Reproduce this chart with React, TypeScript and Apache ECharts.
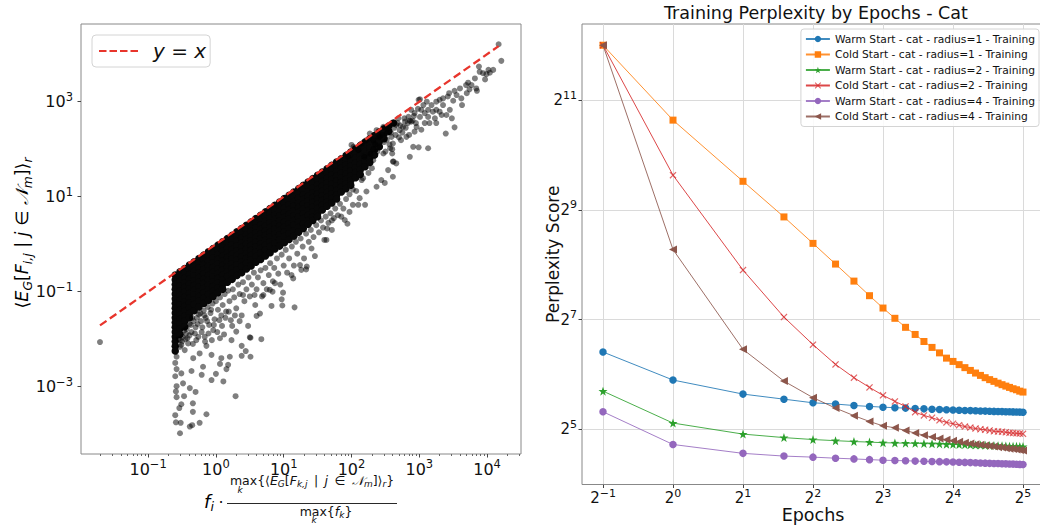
import React, { useEffect, useRef } from 'react';
import * as echarts from 'echarts';

const FONT = 'DejaVu Sans';
const INK = '#111111';

// ---------------- Left panel (log10 space) ----------------
const LEFT_X_TICKS = [-1, 0, 1, 2, 3, 4];
const LEFT_Y_TICKS = [-3, -1, 1, 3];
const LEFT_X_MINOR_DECADES = [-2, -1, 0, 1, 2, 3, 4];
const LEFT_X_MINOR_SUBS = [2, 3, 4, 5, 6, 7, 8, 9];
const LEFT_X_RANGE = [-1.99, 4.5];
const LEFT_Y_RANGE = [-4.417, 4.636];
// log10(x) range of the y = x reference line
const YX_LINE = [-1.71, 4.17];

// dense core of the cloud: [log10 x, log10 y1, log10 y2, ...]
const CORE: number[][] = [
  [-0.60, -0.65, -0.75, -0.85, -0.95, -1.05, -1.15, -1.25, -1.35, -1.45, -1.55, -1.65, -1.75, -1.85, -1.95, -2.05, -2.15, -2.25],
  [-0.53, -0.58, -0.68, -0.78, -0.88, -0.98, -1.08, -1.18, -1.28, -1.38, -1.48, -1.58, -1.68, -1.78, -1.9],
  [-0.46, -0.51, -0.61, -0.71, -0.81, -0.91, -1.01, -1.11, -1.21, -1.31, -1.41, -1.51, -1.62, -1.74],
  [-0.39, -0.44, -0.54, -0.64, -0.74, -0.84, -0.94, -1.04, -1.14, -1.24, -1.34, -1.46, -1.55],
  [-0.32, -0.37, -0.47, -0.57, -0.67, -0.77, -0.87, -0.97, -1.07, -1.17, -1.27, -1.4],
  [-0.25, -0.30, -0.40, -0.50, -0.60, -0.70, -0.80, -0.90, -1.00, -1.10, -1.20, -1.32],
  [-0.18, -0.23, -0.33, -0.43, -0.53, -0.63, -0.73, -0.83, -0.93, -1.03, -1.13, -1.25],
  [-0.11, -0.16, -0.26, -0.36, -0.46, -0.56, -0.66, -0.76, -0.86, -0.96, -1.06, -1.18],
  [-0.04, -0.09, -0.19, -0.29, -0.39, -0.49, -0.59, -0.69, -0.79, -0.89, -0.99, -1.1],
  [0.03, -0.02, -0.12, -0.22, -0.32, -0.42, -0.52, -0.62, -0.72, -0.82, -0.92, -1.02],
  [0.10, 0.05, -0.05, -0.15, -0.25, -0.35, -0.45, -0.55, -0.65, -0.75, -0.85, -0.95],
  [0.17, 0.12, 0.02, -0.08, -0.18, -0.28, -0.38, -0.48, -0.58, -0.68, -0.8],
  [0.24, 0.19, 0.09, -0.01, -0.11, -0.21, -0.31, -0.41, -0.51, -0.61, -0.74],
  [0.31, 0.26, 0.16, 0.06, -0.04, -0.14, -0.24, -0.34, -0.44, -0.54, -0.66],
  [0.38, 0.33, 0.23, 0.13, 0.03, -0.07, -0.17, -0.27, -0.37, -0.47, -0.6],
  [0.45, 0.40, 0.30, 0.20, 0.10, 0.00, -0.10, -0.20, -0.30, -0.40, -0.52],
  [0.52, 0.47, 0.37, 0.27, 0.17, 0.07, -0.03, -0.13, -0.23, -0.33, -0.46],
  [0.59, 0.54, 0.44, 0.34, 0.24, 0.14, 0.04, -0.06, -0.16, -0.26, -0.38],
  [0.66, 0.61, 0.51, 0.41, 0.31, 0.21, 0.11, 0.01, -0.09, -0.19, -0.32],
  [0.73, 0.68, 0.58, 0.48, 0.38, 0.28, 0.18, 0.08, -0.02, -0.12, -0.25],
  [0.80, 0.75, 0.65, 0.55, 0.45, 0.35, 0.25, 0.15, 0.05, -0.05, -0.18],
  [0.87, 0.82, 0.72, 0.62, 0.52, 0.42, 0.32, 0.22, 0.12, 0.02, -0.1],
  [0.94, 0.89, 0.79, 0.69, 0.59, 0.49, 0.39, 0.29, 0.19, 0.09, -0.04],
  [1.01, 0.96, 0.86, 0.76, 0.66, 0.56, 0.46, 0.36, 0.26, 0.16, 0.03],
  [1.08, 1.03, 0.93, 0.83, 0.73, 0.63, 0.53, 0.43, 0.33, 0.22, 0.1],
  [1.15, 1.10, 1.00, 0.90, 0.80, 0.70, 0.60, 0.50, 0.40, 0.28, 0.17],
  [1.22, 1.17, 1.07, 0.97, 0.87, 0.77, 0.67, 0.57, 0.47, 0.35, 0.25],
  [1.29, 1.24, 1.14, 1.04, 0.94, 0.84, 0.74, 0.64, 0.54, 0.43, 0.33],
  [1.36, 1.31, 1.21, 1.11, 1.01, 0.91, 0.81, 0.71, 0.61, 0.5, 0.42],
  [1.43, 1.38, 1.28, 1.18, 1.08, 0.98, 0.88, 0.78, 0.68, 0.57, 0.5],
  [1.50, 1.45, 1.35, 1.25, 1.15, 1.05, 0.95, 0.85, 0.75, 0.64, 0.58],
  [1.57, 1.52, 1.42, 1.32, 1.22, 1.12, 1.02, 0.92, 0.82, 0.72],
  [1.64, 1.59, 1.49, 1.39, 1.29, 1.19, 1.09, 0.99, 0.89, 0.8],
  [1.71, 1.66, 1.56, 1.46, 1.36, 1.26, 1.16, 1.06, 0.96, 0.87],
  [1.78, 1.73, 1.63, 1.53, 1.43, 1.33, 1.23, 1.13, 1.03, 0.95],
  [1.85, 1.80, 1.70, 1.60, 1.50, 1.40, 1.30, 1.20, 1.1],
  [1.92, 1.87, 1.77, 1.67, 1.57, 1.47, 1.37, 1.27, 1.17],
  [1.99, 1.94, 1.84, 1.74, 1.64, 1.54, 1.44, 1.34, 1.24],
  [2.06, 2.01, 1.91, 1.81, 1.71, 1.61, 1.51, 1.4],
  [2.13, 2.08, 1.98, 1.88, 1.78, 1.68, 1.57, 1.47],
  [2.20, 2.15, 2.05, 1.95, 1.85, 1.75, 1.63],
  [2.27, 2.22, 2.12, 2.02, 1.92, 1.82, 1.72],
  [2.34, 2.29, 2.19, 2.09, 1.99, 1.88],
  [2.41, 2.36, 2.26, 2.16, 2.05],
  [2.48, 2.43, 2.33, 2.22],
  [2.55, 2.49, 2.38],
  [2.62, 2.55],
];

// individual points around the core: [log10 x, log10 y]
const FRINGE: number[][] = [
  [-1.71, -2.06],
  [-0.53, -3.98], [-0.52, -3.76], [-0.385, -3.84], [-0.35, -3.81], [-0.24, -3.76], [-0.14, -3.58], [-0.34, -3.53],
  [-0.34, -3.35], [-0.54, -3.45], [-0.51, -3.37], [0.29, -3.2], [-0.47, -3.2], [-0.58, -3.22], [-0.3, -3.11],
  [-0.385, -3.03], [-0.485, -2.93], [-0.58, -2.99], [0.11, -2.89], [-0.065, -2.86], [-0.21, -2.75], [0.0, -2.73],
  [0.155, -2.63], [-0.58, -2.63], [-0.51, -2.72], [-0.36, -2.67], [-0.19, -2.58], [0.06, -2.52], [0.18, -2.54],
  [0.38, -2.35], [0.44, -2.25], [0.51, -2.37], [0.51, -1.97], [0.67, -2.0], [0.38, -2.14], [0.205, -2.37],
  [0.08, -2.4], [-0.065, -2.33], [-0.24, -2.3], [-0.335, -2.4], [-0.58, -2.37], [-0.46, -2.23], [-0.14, -2.14],
  [0.6, -1.51], [0.475, -1.72], [0.65, -1.46], [0.82, -1.3], [0.97, -1.16], [0.99, -1.02], [1.16, -1.33],
  [1.115, -0.65], [1.24, -0.44], [1.33, -0.53], [0.835, -1.0], [0.98, -1.29], [0.3, -1.84], [0.23, -2.02],
  [0.06, -1.98], [-0.04, -1.81], [-0.165, -1.95], [-0.29, -2.02], [-0.41, -2.09], [-0.53, -2.16], [0.5, -1.96],
  [-0.6, -2.5], [-0.6, -2.78], [-0.59, -3.1], [-0.6, -3.6], [-0.59, -3.75],
  [-0.55, -2.0], [-0.5, -2.05], [-0.49, -1.95], [-0.44, -1.88], [-0.42, -1.98], [-0.37, -1.7], [-0.36, -1.85],
  [-0.33, -1.62], [-0.3, -1.75], [-0.28, -1.55], [-0.25, -1.48], [-0.22, -1.62], [-0.21, -1.85], [-0.18, -1.4],
  [-0.15, -1.55], [-0.12, -1.32], [-0.1, -1.7], [-0.08, -1.45], [-0.05, -1.25], [-0.02, -1.58], [0.0, -1.2],
  [0.03, -1.38], [0.06, -1.12], [0.08, -1.5], [0.1, -1.28], [0.13, -1.05], [0.15, -1.42], [0.18, -0.98],
  [0.2, -1.2], [0.22, -1.6], [0.25, -0.95], [0.27, -1.12], [0.3, -1.35], [0.33, -0.85], [0.35, -1.05],
  [0.38, -1.5], [0.4, -0.8], [0.42, -1.2], [0.45, -0.95], [0.48, -0.7], [0.5, -1.1], [0.53, -0.85],
  [0.56, -0.6], [0.58, -1.28], [0.6, -0.95], [0.62, -0.7], [0.66, -0.55], [0.68, -1.1], [0.7, -0.82],
  [0.73, -0.5], [0.75, -0.95], [0.78, -0.65], [0.8, -0.4], [0.84, -0.78], [0.86, -0.5], [0.9, -0.3],
  [0.92, -0.62], [0.95, -0.85], [0.97, -0.22], [1.0, -0.45], [1.03, -0.12], [1.05, -0.6], [1.08, -0.3],
  [1.12, -0.05], [1.15, -0.45], [1.18, 0.05], [1.2, -0.2], [1.25, 0.12], [1.28, -0.05], [1.3, -0.3],
  [1.33, 0.22], [1.37, 0.05], [1.4, 0.3], [1.44, 0.15], [1.46, -0.25], [1.48, 0.4], [1.52, 0.25],
  [1.55, 0.5], [1.58, 0.35], [1.6, 0.09], [1.62, 0.58], [1.66, 0.45], [1.64, 0.33], [1.69, 0.65],
  [1.71, 0.3], [1.74, 0.55], [1.76, 0.75], [1.8, 0.61], [1.83, 0.85], [1.85, 0.58], [1.88, 0.75],
  [1.9, 0.51], [1.92, 0.95], [1.94, 0.43], [1.97, 0.68], [1.97, 1.05], [2.02, 0.83], [2.02, 1.15],
  [2.07, 1.12], [2.1, 0.83], [2.12, 0.97], [2.15, 1.35], [2.17, 1.39], [2.2, 0.83], [2.22, 1.11],
  [2.25, 1.5], [2.3, 1.6], [2.37, 1.21], [2.44, 1.35], [2.49, 1.29], [2.54, 1.56], [2.6, 1.91],
  [2.61, 1.42], [2.62, 1.74], [2.66, 1.7], [1.34, -0.47], [1.26, -0.54], [0.87, -0.82], [0.795, -0.96],
  [0.7, -1.07], [0.57, -1.07], [0.4, -1.07], [1.14, -0.72], [1.41, -0.09], [1.63, 0.09], [1.71, 0.5],
  [2.55, 2.45], [2.58, 2.35], [2.63, 2.45], [2.65, 2.3], [2.68, 2.55], [2.7, 2.25], [2.72, 2.5],
  [2.75, 2.35], [2.78, 2.65], [2.8, 2.45], [2.83, 2.55], [2.85, 2.3], [2.9, 2.6], [2.92, 2.7],
  [2.95, 2.55], [2.98, 2.85], [2.52, 2.2], [2.56, 2.1], [2.6, 2.0], [2.45, 2.3], [2.48, 2.15],
  [2.4, 2.25], [2.42, 2.05], [2.5, 1.95], [2.35, 2.1], [2.38, 1.95], [2.28, 1.9], [2.32, 2.0],
  [4.17, 4.21], [4.21, 3.86], [4.09, 3.67], [4.04, 3.61], [3.99, 3.58], [3.97, 3.47], [3.88, 3.74],
  [3.89, 3.63], [3.82, 3.49], [3.84, 3.28], [3.85, 3.23], [3.72, 3.4], [3.69, 3.35], [3.74, 3.26],
  [3.7, 3.18], [3.6, 3.28], [3.52, 3.23], [3.62, 3.07], [3.63, 2.93], [3.44, 3.18], [3.42, 3.11],
  [3.5, 3.02], [3.35, 3.07], [3.3, 3.04], [3.25, 3.0], [3.18, 2.93], [3.11, 3.0], [3.01, 3.05],
  [2.99, 3.04], [3.06, 2.93], [3.03, 2.83], [3.45, 2.83], [3.4, 2.72], [3.48, 2.65], [3.52, 2.46],
  [3.39, 2.33], [3.25, 2.55], [3.15, 2.55], [3.13, 2.68], [3.23, 2.65], [3.3, 2.79], [3.25, 2.83],
  [3.35, 2.93], [3.2, 2.79], [3.13, 2.83], [3.08, 2.76], [3.01, 2.68], [2.93, 2.76], [2.88, 2.83],
  [2.84, 2.68], [2.88, 2.58], [2.96, 2.47], [3.03, 2.41], [3.13, 2.02], [2.99, 2.04], [2.91, 2.05],
  [2.86, 1.84], [2.73, 2.19], [2.81, 2.26], [2.71, 2.4], [2.76, 2.47], [2.66, 2.51], [2.79, 2.58],
  [2.61, 2.12], [2.61, 1.74], [2.59, 2.26], [2.52, 2.33], [2.47, 2.47], [2.42, 2.26], [2.37, 2.4],
  [2.32, 2.19], [2.27, 2.33], [2.22, 2.19], [2.15, 2.12], [2.1, 1.98], [2.03, 2.05], [2.0, 2.09],
  [1.95, 1.84], [2.19, 1.84], [2.47, 1.91], [2.32, 1.77], [2.57, 2.02], [2.86, 2.6], [2.69, 2.65],
  [2.61, 2.55], [2.52, 2.44], [2.93, 2.37], [3.08, 2.55], [3.33, 2.72], [3.55, 3.14], [3.77, 3.35],
  [3.94, 3.6], [4.02, 3.67],
  [-0.53, -2.02], [-0.51, -2.12], [-0.47, -1.82], [-0.45, -2.0], [-0.43, -1.78], [-0.39, -1.68], [-0.39, -1.92],
  [-0.35, -1.55], [-0.34, -2.1], [-0.31, -1.88], [-0.27, -1.68], [-0.26, -1.95], [-0.23, -1.45], [-0.2, -1.75],
  [-0.17, -1.5], [-0.16, -2.05], [-0.13, -1.62], [-0.11, -1.88], [-0.07, -1.38], [-0.06, -2.02], [-0.03, -1.7],
  [0.02, -1.85], [0.05, -1.6], [0.09, -1.72], [0.12, -1.9], [0.14, -1.55], [0.19, -1.42], [0.24, -1.72],
  [0.28, -1.5], [0.35, -1.62],
];

// ---------------- Right panel ----------------
const EPOCHS = [0.5, 1, 2, 3, 4, 5, 6, 7, 8, 9, 10, 11, 12, 13, 14, 15, 16, 17, 18, 19, 20, 21, 22, 23, 24, 25, 26, 27, 28, 29, 30, 31, 32];
const WARM_R1 = [84.9, 59.6, 49.9, 46.8, 44.7, 44.0, 43.2, 42.7, 42.3, 42.0, 41.8, 41.6, 41.4, 41.2, 41.1, 40.9, 40.8, 40.7, 40.6, 40.5, 40.4, 40.3, 40.25, 40.2, 40.1, 40.05, 40.0, 39.95, 39.9, 39.85, 39.8, 39.75, 39.7];
const COLD_R1 = [4096, 1590, 734, 468, 335, 258, 208, 173, 148, 130, 116, 106, 97, 90, 84, 78.6, 75.4, 72.4, 69.7, 67.3, 65.1, 63.2, 61.4, 59.9, 58.6, 57.3, 56.2, 55.2, 54.3, 53.4, 52.7, 51.8, 51.2];
const WARM_R2 = [51.8, 34.6, 30.1, 28.8, 28.1, 27.7, 27.4, 27.2, 27.0, 26.9, 26.85, 26.8, 26.7, 26.65, 26.6, 26.5, 26.45, 26.4, 26.35, 26.3, 26.25, 26.2, 26.15, 26.1, 26.05, 26.0, 25.95, 25.9, 25.85, 25.8, 25.78, 25.75, 25.7];
const COLD_R2 = [4096, 793, 239, 132, 93.2, 72.6, 61.4, 54.3, 49.1, 45.5, 42.7, 39.7, 38.1, 37.0, 35.8, 34.9, 34.3, 33.7, 33.1, 32.7, 32.3, 32.0, 31.8, 31.5, 31.2, 31.1, 31.0, 30.8, 30.6, 30.5, 30.4, 30.3, 30.2];
const WARM_R4 = [39.9, 26.4, 23.6, 22.8, 22.5, 22.2, 22.0, 21.8, 21.65, 21.55, 21.5, 21.4, 21.35, 21.3, 21.25, 21.2, 21.15, 21.1, 21.05, 21.0, 20.95, 20.9, 20.85, 20.8, 20.78, 20.75, 20.7, 20.67, 20.63, 20.6, 20.57, 20.53, 20.5];
const COLD_R4 = [4096, 310, 87.8, 58.8, 47.7, 41.8, 38.0, 35.3, 33.4, 32.6, 31.5, 30.5, 29.7, 29.0, 28.5, 28.0, 27.7, 27.3, 27.0, 26.7, 26.5, 26.3, 26.1, 25.9, 25.7, 25.5, 25.4, 25.2, 25.0, 24.9, 24.8, 24.6, 24.5];
const SERIES_NAMES = [
  'Warm Start - cat - radius=1 - Training',
  'Cold Start - cat - radius=1 - Training',
  'Warm Start - cat - radius=2 - Training',
  'Cold Start - cat - radius=2 - Training',
  'Warm Start - cat - radius=4 - Training',
  'Cold Start - cat - radius=4 - Training',
];
const RIGHT_X_TICKS = [-1, 0, 1, 2, 3, 4, 5];
const RIGHT_Y_TICKS = [5, 7, 9, 11];
const RIGHT_X_RANGE = [-1.3, 5.3];
const RIGHT_Y_RANGE = [3.993, 12.387];

const STAR = 'path://M5,0L6.18,3.38L9.76,3.45L6.9,5.62L7.94,9.05L5,7L2.06,9.05L3.1,5.62L0.24,3.45L3.82,3.38Z';
const CROSS = 'path://M0,1.2L1.2,0L5,3.8L8.8,0L10,1.2L6.2,5L10,8.8L8.8,10L5,6.2L1.2,10L0,8.8L3.8,5Z';
const LTRI = 'path://M0,5L9,0L9,10Z';
const DASH_ICON = 'path://M0,0H7.5V2H0Z M10.5,0H18V2H10.5Z M21,0H28.5V2H21Z M31.5,0H39V2H31.5Z';

const fmtExp = (v: number) => (v < 0 ? '\u2212' + Math.abs(v) : String(v));

const tickRich = (size: number, sup: number) => ({
  b: { fontFamily: FONT, fontSize: size, lineHeight: size + 6, color: INK },
  s: { fontFamily: FONT, fontSize: sup, lineHeight: sup, verticalAlign: 'top', color: INK },
});

const NO_LINE = { show: false, onZero: false };

export default function App() {
  const ref = useRef<HTMLDivElement>(null);

  useEffect(() => {
    if (!ref.current) return;
    const chart = echarts.init(ref.current, null, { renderer: 'svg' });

    const corePts: number[][] = [];
    CORE.forEach((col) => {
      for (let i = 1; i < col.length; i++) corePts.push([col[0], col[i]]);
    });
    const minorTicks: number[] = [];
    LEFT_X_MINOR_DECADES.forEach((d) =>
      LEFT_X_MINOR_SUBS.forEach((s) => {
        const v = d + Math.log10(s);
        if (v > LEFT_X_RANGE[0] && v < LEFT_X_RANGE[1]) minorTicks.push(v);
      })
    );

    const rightData = [WARM_R1, COLD_R1, WARM_R2, COLD_R2, WARM_R4, COLD_R4];
    const colors = ['#1f77b4', '#ff7f0e', '#2ca02c', '#d62728', '#9467bd', '#8c564b'];
    const symbols = ['circle', 'rect', STAR, CROSS, 'circle', LTRI];
    const sizes = [7.5, 7, 9, 7, 7.5, 8];

    const rightSeries = rightData.map((vals, i) => ({
      type: 'line',
      name: SERIES_NAMES[i],
      xAxisIndex: 2,
      yAxisIndex: 1,
      data: EPOCHS.map((e, j) => [Math.log2(e), Math.log2(vals[j])]),
      symbol: symbols[i],
      symbolSize: sizes[i],
      lineStyle: { color: colors[i], width: 1, opacity: 0.85 },
      itemStyle: { color: colors[i], opacity: i === 3 ? 0.7 : 1 },
      z: 3 + i,
    }));

    const sub = { fontFamily: FONT, fontStyle: 'italic', fontSize: 12.3, lineHeight: 11, verticalAlign: 'bottom', color: INK };
    const mainM = { fontFamily: FONT, fontSize: 17.5, lineHeight: 24, color: INK };
    const mainI = { ...mainM, fontStyle: 'italic' };

    const nSub = { fontFamily: FONT, fontStyle: 'italic', fontSize: 9, lineHeight: 8, verticalAlign: 'bottom', color: INK };
    const nM = { fontFamily: FONT, fontSize: 12.5, lineHeight: 17, color: INK };
    const nI = { ...nM, fontStyle: 'italic' };

    const option: any = {
      animation: false,
      title: {
        text: 'Training Perplexity by Epochs - Cat',
        left: 659,
        top: -1,
        textStyle: { fontFamily: FONT, fontSize: 17.5, fontWeight: 'normal', color: INK },
      },
      grid: [
        { left: 81, top: 24, width: 440, height: 430, show: true, borderColor: '#888', borderWidth: 1, outerBoundsMode: 'none', containLabel: false },
        { left: 582, top: 24, width: 462, height: 460.5, show: true, borderColor: '#888', borderWidth: 1, outerBoundsMode: 'none', containLabel: false },
      ],
      xAxis: [
        {
          type: 'value', gridIndex: 0, min: LEFT_X_RANGE[0], max: LEFT_X_RANGE[1], position: 'bottom',
          axisLine: NO_LINE, splitLine: { show: false },
          axisTick: { customValues: LEFT_X_TICKS, length: 3.5, lineStyle: { color: '#444' } },
          axisLabel: { customValues: LEFT_X_TICKS, margin: 4, formatter: (v: number) => `{b|10}{s|${fmtExp(v)}}`, rich: tickRich(16, 11.5) },
        },
        {
          type: 'value', gridIndex: 0, min: LEFT_X_RANGE[0], max: LEFT_X_RANGE[1], position: 'bottom',
          axisLine: NO_LINE, splitLine: { show: false }, axisLabel: { show: false },
          axisTick: { customValues: minorTicks, length: 2, lineStyle: { color: '#666' } },
        },
        {
          type: 'value', gridIndex: 1, min: RIGHT_X_RANGE[0], max: RIGHT_X_RANGE[1], position: 'bottom',
          axisLine: NO_LINE,
          splitLine: { show: true, lineStyle: { color: '#dadada', width: 1 } },
          axisTick: { customValues: RIGHT_X_TICKS, length: 3.5, lineStyle: { color: '#444' } },
          axisLabel: { customValues: RIGHT_X_TICKS, margin: 3, formatter: (v: number) => `{b|2}{s|${fmtExp(v)}}`, rich: tickRich(15, 11) },
          name: 'Epochs', nameLocation: 'middle', nameGap: 21, nameMoveOverlap: false,
          nameTextStyle: { fontFamily: FONT, fontSize: 17.5, color: INK },
        },
      ],
      yAxis: [
        {
          type: 'value', gridIndex: 0, min: LEFT_Y_RANGE[0], max: LEFT_Y_RANGE[1], position: 'left',
          axisLine: NO_LINE, splitLine: { show: false },
          axisTick: { customValues: LEFT_Y_TICKS, length: 3.5, lineStyle: { color: '#444' } },
          axisLabel: { customValues: LEFT_Y_TICKS, margin: 8, formatter: (v: number) => `{b|10}{s|${fmtExp(v)}}`, rich: tickRich(16, 11.5) },
        },
        {
          type: 'value', gridIndex: 1, min: RIGHT_Y_RANGE[0], max: RIGHT_Y_RANGE[1], position: 'left',
          axisLine: NO_LINE,
          splitLine: { show: true, lineStyle: { color: '#dadada', width: 1 } },
          axisTick: { customValues: RIGHT_Y_TICKS, length: 3.5, lineStyle: { color: '#444' } },
          axisLabel: { customValues: RIGHT_Y_TICKS, margin: 5, formatter: (v: number) => `{b|2}{s|${fmtExp(v)}}`, rich: tickRich(15, 11) },
          name: 'Perplexity Score', nameLocation: 'middle', nameGap: 21, nameRotate: 90, nameMoveOverlap: false,
          nameTextStyle: { fontFamily: FONT, fontSize: 17, color: INK },
        },
      ],
      legend: [
        {
          data: [{ name: 'y = x', icon: DASH_ICON, itemStyle: { color: '#e8352c' } }],
          left: 92, top: 35, orient: 'vertical',
          itemWidth: 39, itemHeight: 2.5,
          padding: [6, 4, 6, 7],
          backgroundColor: 'rgba(255,255,255,0.85)', borderColor: '#d4d4d4', borderWidth: 1, borderRadius: 4,
          selectedMode: false,
          formatter: () => '{g|}{i|y}{n| = }{i|x}',
          textStyle: {
            rich: {
              g: { width: 10 },
              i: { fontFamily: FONT, fontStyle: 'italic', fontSize: 20, lineHeight: 24, color: INK },
              n: { fontFamily: FONT, fontSize: 20, lineHeight: 24, color: INK },
            },
          },
        },
        {
          data: SERIES_NAMES,
          right: 1, top: 29, orient: 'vertical',
          itemWidth: 24, itemHeight: 8, itemGap: 3.5,
          padding: [4, 4, 4, 4],
          backgroundColor: 'rgba(255,255,255,0.85)', borderColor: '#d4d4d4', borderWidth: 1, borderRadius: 3,
          selectedMode: false,
          textStyle: { fontFamily: FONT, fontSize: 10.7, lineHeight: 12, color: INK },
        },
      ],
      series: [
        {
          type: 'scatter', xAxisIndex: 0, yAxisIndex: 0, data: corePts, symbolSize: 7.5,
          itemStyle: { color: '#080808', opacity: 1 }, silent: true, z: 2,
        },
        {
          type: 'scatter', xAxisIndex: 0, yAxisIndex: 0, data: FRINGE, symbolSize: 6,
          itemStyle: { color: '#000', opacity: 0.5 }, silent: true, z: 2,
        },
        {
          type: 'line', name: 'y = x', xAxisIndex: 0, yAxisIndex: 0,
          data: [[YX_LINE[0], YX_LINE[0]], [YX_LINE[1], YX_LINE[1]]],
          symbol: 'none',
          itemStyle: { color: '#e8352c' },
          lineStyle: { color: '#e8352c', width: 2.3, type: [8, 4] },
          z: 5,
        },
        ...rightSeries,
      ],
      graphic: [
        {
          type: 'text', x: 22, y: 233, rotation: Math.PI / 2,
          style: {
            text: '{m|\u27e8}{i|E}{s|G}{m|[}{i|F}{s|i,j}{m| | }{i|j}{m| \u2208 }{c|\ud835\udca9}{s|m}{m|]\u27e9}{s|r}',
            align: 'center', verticalAlign: 'middle',
            rich: { m: mainM, i: mainI, s: sub, c: mainI },
          },
        },
        {
          type: 'text', x: 209, y: 501,
          style: {
            text: '{i|f}{s|i}', align: 'center', verticalAlign: 'middle',
            rich: { i: { ...mainI, fontSize: 18 }, s: { ...sub, fontSize: 12.5 } },
          },
        },
        { type: 'text', x: 221, y: 502, style: { text: '\u00b7', fontFamily: FONT, fontSize: 16, fill: INK, align: 'center', verticalAlign: 'middle' } },
        {
          type: 'text', x: 312, y: 480,
          style: {
            text: '{u|max}{m|{\u27e8}{i|E}{s|G}{m|[}{i|F}{s|k,j}{m|\u2009 | \u2009}{i|j}{m|\u2009 \u2208 \u2009}{i|\ud835\udca9}{s|m}{m|]\u27e9}{s|r}}',
            fontFamily: FONT, fontSize: 12.5, fill: INK,
            align: 'center', verticalAlign: 'middle',
            rich: { u: nM, m: nM, i: nI, s: nSub },
          },
        },
        { type: 'text', x: 240, y: 490, style: { text: 'k', fontFamily: FONT, fontStyle: 'italic', fontSize: 9, fill: INK, align: 'center', verticalAlign: 'middle' } },
        { type: 'line', shape: { x1: 227, y1: 503.5, x2: 397, y2: 503.5 }, style: { stroke: INK, lineWidth: 0.9 } },
        {
          type: 'text', x: 326, y: 511,
          style: {
            text: '{u|max}{m|{}{i|f}{s|k}}',
            fontFamily: FONT, fontSize: 12.5, fill: INK,
            align: 'center', verticalAlign: 'middle',
            rich: { u: nM, m: nM, i: nI, s: nSub },
          },
        },
        { type: 'text', x: 314, y: 520, style: { text: 'k', fontFamily: FONT, fontStyle: 'italic', fontSize: 9, fill: INK, align: 'center', verticalAlign: 'middle' } },
      ],
    };

    chart.setOption(option);
    return () => chart.dispose();
  }, []);

  return (
    <div
      ref={ref}
      style={{ position: 'absolute', left: 0, top: 0, width: 1040, height: 525, background: '#fff' }}
    />
  );
}
